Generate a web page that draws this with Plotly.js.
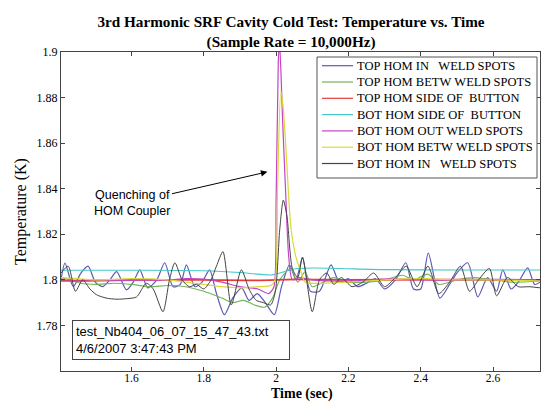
<!DOCTYPE html>
<html>
<head>
<meta charset="utf-8">
<script src="https://cdn.plot.ly/plotly-3.0.1.min.js"></script>
<style>html,body{margin:0;padding:0;background:#fff;}#chart{width:541px;height:403px;}</style>
</head>
<body>
<div id="chart"></div>
<script>
// ---- data ----
const seriesNames = [
  "TOP HOM IN   WELD SPOTS",
  "TOP HOM BETW WELD SPOTS",
  "TOP HOM SIDE OF  BUTTON",
  "BOT HOM SIDE OF  BUTTON",
  "BOT HOM OUT WELD SPOTS",
  "BOT HOM BETW WELD SPOTS",
  "BOT HOM IN   WELD SPOTS"
];

const topInX = [1.405,1.416,1.439,1.46,1.48,1.50,1.52,1.54,1.559,1.586,1.605,1.623,1.645,1.67,1.692,1.715,1.735,1.752,1.775,1.795,1.816,1.835,1.857,1.88,1.905,1.925,1.948,1.97,1.995,2.015,2.037,2.055,2.073,2.095,2.12,2.152,2.175,2.20,2.225,2.25,2.275,2.30,2.33,2.359,2.38,2.40,2.421,2.453,2.48,2.50,2.53,2.558,2.585,2.61,2.627,2.65,2.67,2.696,2.715,2.73];
const topInY = [1.800,1.8073,1.797,1.803,1.806,1.799,1.797,1.800,1.8036,1.7956,1.799,1.8044,1.7965,1.800,1.8075,1.797,1.798,1.8066,1.797,1.799,1.8044,1.794,1.7847,1.792,1.7965,1.791,1.794,1.790,1.7847,1.797,1.8066,1.800,1.8096,1.795,1.795,1.8066,1.799,1.8005,1.797,1.7985,1.8005,1.796,1.800,1.8075,1.796,1.796,1.8117,1.792,1.798,1.803,1.8075,1.7925,1.801,1.795,1.8044,1.796,1.799,1.8053,1.798,1.799];

const topBetwX = [1.405,1.43,1.46,1.50,1.55,1.60,1.65,1.70,1.75,1.80,1.85,1.88,1.91,1.94,1.968,1.99,2.01,2.04,2.06,2.08,2.10,2.13,2.16,2.20,2.25,2.30,2.35,2.38,2.42,2.45,2.50,2.55,2.60,2.65,2.73];
const topBetwY = [1.801,1.800,1.7985,1.798,1.7985,1.798,1.797,1.7975,1.797,1.795,1.792,1.790,1.791,1.789,1.788,1.792,1.800,1.805,1.799,1.8035,1.797,1.799,1.801,1.799,1.799,1.800,1.802,1.800,1.8025,1.798,1.800,1.801,1.800,1.799,1.7995];

const topSideX = [1.405,1.50,1.60,1.80,1.95,2.05,2.20,2.40,2.60,2.73];
const topSideY = [1.7997,1.7998,1.8000,1.8000,1.7998,1.8002,1.8000,1.8001,1.8000,1.8000];

const botSideX = [1.405,1.60,1.80,1.90,1.95,1.99,2.05,2.10,2.30,2.50,2.73];
const botSideY = [1.8042,1.8042,1.8040,1.8032,1.8025,1.8022,1.8048,1.8052,1.8045,1.8043,1.8043];

const botOutX = [1.405,1.50,1.60,1.70,1.75,1.80,1.85,1.90,1.95,1.98,1.994,2.000,2.006,2.009,2.013,2.018,2.026,2.035,2.045,2.064,2.10,2.20,2.30,2.40,2.50,2.60,2.73];
const botOutY = [1.7995,1.7995,1.7998,1.800,1.8005,1.8003,1.799,1.797,1.796,1.794,1.797,1.835,1.895,1.905,1.893,1.870,1.840,1.810,1.800,1.801,1.800,1.7995,1.8003,1.800,1.7998,1.8002,1.800];

const botBetwX = [1.405,1.45,1.50,1.60,1.70,1.75,1.80,1.85,1.90,1.95,1.985,1.997,2.004,2.013,2.020,2.026,2.041,2.055,2.07,2.08,2.10,2.20,2.30,2.40,2.50,2.60,2.73];
const botBetwY = [1.801,1.8005,1.800,1.8005,1.800,1.799,1.798,1.797,1.7965,1.797,1.7975,1.800,1.840,1.883,1.875,1.861,1.823,1.810,1.803,1.799,1.7985,1.799,1.800,1.8005,1.800,1.800,1.7995];

const botInX = [1.405,1.425,1.445,1.465,1.485,1.503,1.53,1.56,1.59,1.614,1.641,1.66,1.687,1.705,1.72,1.74,1.76,1.78,1.80,1.82,1.835,1.853,1.876,1.904,1.925,1.945,1.965,1.985,1.998,2.01,2.02,2.03,2.045,2.06,2.073,2.10,2.12,2.14,2.16,2.18,2.21,2.24,2.27,2.30,2.33,2.36,2.39,2.42,2.45,2.48,2.51,2.535,2.56,2.59,2.61,2.64,2.67,2.70,2.73];
const botInY = [1.803,1.806,1.795,1.800,1.796,1.7935,1.792,1.7915,1.7918,1.7925,1.7985,1.796,1.786,1.800,1.8075,1.800,1.797,1.798,1.796,1.800,1.806,1.8124,1.789,1.8044,1.796,1.791,1.790,1.789,1.795,1.822,1.835,1.828,1.805,1.801,1.810,1.786,1.800,1.803,1.798,1.801,1.797,1.799,1.803,1.797,1.801,1.806,1.797,1.806,1.794,1.799,1.806,1.795,1.800,1.805,1.793,1.801,1.797,1.797,1.7965];

const xTickVals = [1.6,1.8,2,2.2,2.4,2.6];
const xTickText = ["1.6","1.8","2","2.2","2.4","2.6"];
const yTickVals = [1.78,1.8,1.82,1.84,1.86,1.88,1.9];
const yTickText = ["1.78","1.8","1.82","1.84","1.86","1.88","1.9"];

const fileNote = "test_Nb404_06_07_15_47_43.txt<br>4/6/2007 3:47:43 PM";
const quenchNote = "Quenching of<br>HOM Coupler";

// ---- styling ----
const xs = [topInX, topBetwX, topSideX, botSideX, botOutX, botBetwX, botInX];
const ys = [topInY, topBetwY, topSideY, botSideY, botOutY, botBetwY, botInY];
const colors = ["#5a5ab8","#72b45a","#e83a3a","#45c8c8","#c445c4","#d9d93a","#444444"];
const widths = [1.2,1.1,1.8,1.1,1.2,1.2,1.0];

const traces = seriesNames.map((n,i)=>({
  x: xs[i], y: ys[i], name: n, type: "scatter", mode: "lines",
  line: {color: colors[i], width: widths[i], shape: "spline", smoothing: 0.7}
}));

const serif = "Liberation Serif, Times New Roman, serif";
const sans = "Liberation Sans, Arial, sans-serif";

// legend box drawn in paper coordinates (plot area: left 61px, width 479px, top 52px, height 319px)
const px2x = p => (p - 61) / 479;
const py2y = p => 1 - (p - 52) / 319;
const legendRowPx = [65.7, 82.0, 98.3, 114.6, 130.9, 147.2, 163.5];

const shapes = [
  {type: "rect", xref: "paper", yref: "paper", x0: px2x(317), x1: px2x(537), y0: py2y(178), y1: py2y(57),
   line: {color: "#555", width: 1}, fillcolor: "#fff", layer: "above"}
];
const annotations = [
  {xref: "paper", yref: "paper", x: 0.022, y: 0.035, xanchor: "left", yanchor: "bottom", align: "left",
   text: fileNote, showarrow: false, font: {family: sans, size: 13, color: "#000"},
   bordercolor: "#444", borderwidth: 1, borderpad: 3, bgcolor: "#fff", width: 210},
  {x: 1.976, y: 1.8474, xref: "x", yref: "y", text: quenchNote, showarrow: true, ax: -135, ay: 31,
   arrowhead: 2, arrowsize: 1.3, arrowwidth: 1, arrowcolor: "#000", align: "center",
   font: {family: sans, size: 12.5, color: "#000"}},
  {xref: "paper", yref: "paper", x: px2x(302), y: 0, yshift: -31.5, xanchor: "center", yanchor: "bottom", borderpad: 0,
   text: "<b>Time (sec)</b>", showarrow: false, font: {family: serif, size: 14, color: "#000"}}
];
seriesNames.forEach((n, i) => {
  shapes.push({type: "line", xref: "paper", yref: "paper", x0: px2x(322), x1: px2x(353),
               y0: py2y(legendRowPx[i]), y1: py2y(legendRowPx[i]), line: {color: colors[i], width: 1.2}, layer: "above"});
  annotations.push({xref: "paper", yref: "paper", x: px2x(355), y: py2y(legendRowPx[i]), xanchor: "left", yanchor: "middle",
                    text: n.replace(/ /g, "&nbsp;"), showarrow: false, font: {family: serif, size: 12.5, color: "#000"}});
});

const layout = {
  width: 541, height: 403,
  margin: {l: 61, r: 1, t: 52, b: 32},
  paper_bgcolor: "#fff", plot_bgcolor: "#fff",
  showlegend: false,
  title: {text: "<b>3rd Harmonic SRF Cavity Cold Test: Temperature vs. Time<br>(Sample Rate = 10,000Hz)</b>",
          font: {family: serif, size: 15.2, color: "#000"}, x: 0.538, xanchor: "center",
          yref: "container", y: 1 - 27 / 403, yanchor: "middle"},
  xaxis: {range: [1.405, 2.73], tickvals: xTickVals, ticktext: xTickText, ticks: "inside", ticklen: 4,
          tickcolor: "#444", showline: true, linecolor: "#444", linewidth: 1, mirror: "ticks", showgrid: false, zeroline: false,
          tickfont: {family: serif, size: 11.5, color: "#000"}, ticklabelstandoff: -4},
  yaxis: {range: [1.76, 1.9], tickvals: yTickVals, ticktext: yTickText, ticks: "inside", ticklen: 4,
          tickcolor: "#444", showline: true, linecolor: "#444", linewidth: 1, mirror: "ticks", showgrid: false, zeroline: false,
          tickfont: {family: serif, size: 12, color: "#000"},
          title: {text: "Temperature (K)", font: {family: serif, size: 16, color: "#000"}, standoff: 5}},
  shapes: shapes,
  annotations: annotations
};

Plotly.newPlot("chart", traces, layout, {staticPlot: true, displayModeBar: false});
</script>
</body>
</html>
